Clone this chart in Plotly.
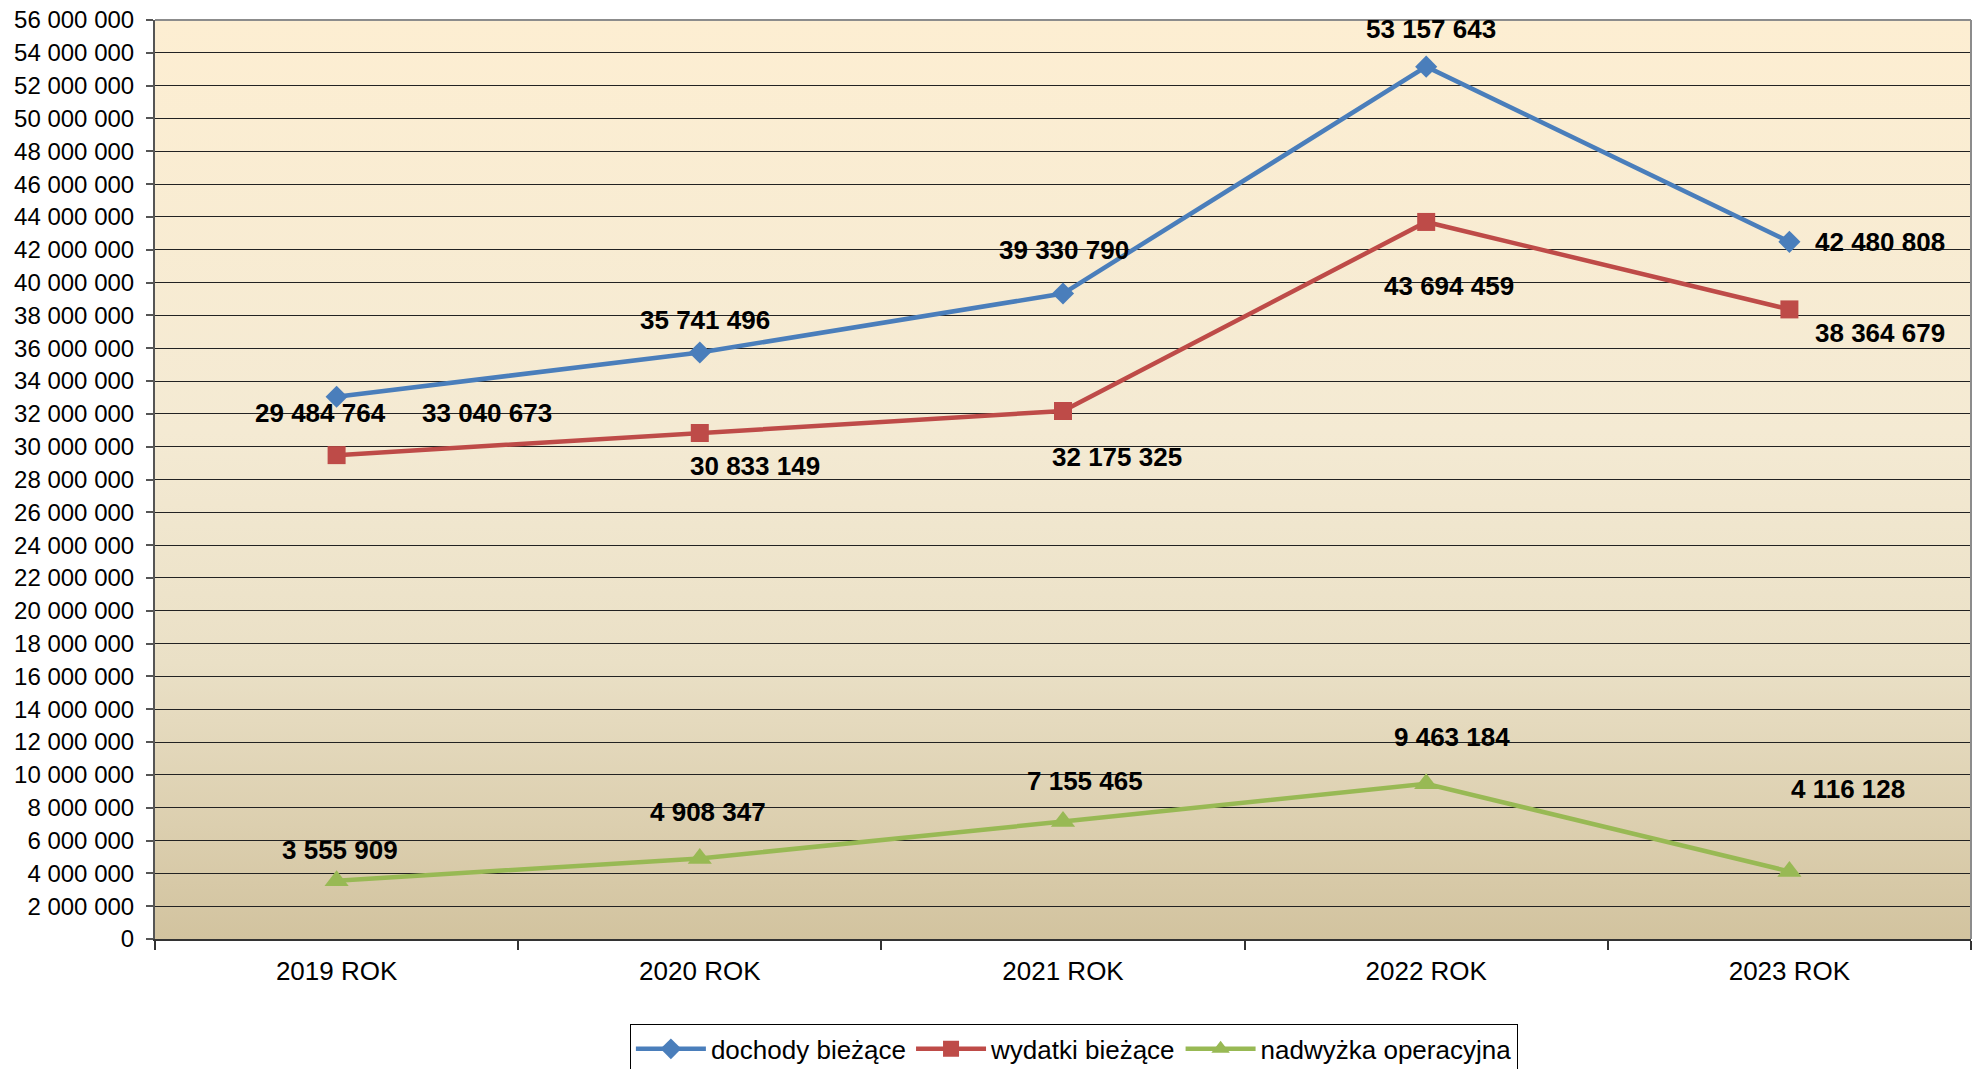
import base64
import plotly.graph_objects as go

# Budget series, PLN
years = ["2019 ROK", "2020 ROK", "2021 ROK", "2022 ROK", "2023 ROK"]
dochody = [33040673, 35741496, 39330790, 53157643, 42480808]
wydatki = [29484764, 30833149, 32175325, 43694459, 38364679]
nadwyzka = [3555909, 4908347, 7155465, 9463184, 4116128]

series_names = ["dochody bieżące", "wydatki bieżące", "nadwyżka operacyjna"]

# Pixel offsets of the value labels relative to their markers (dx right, dy down)
offsets_dochody = [(150, 16), (5, -32), (1, -44), (5, -38), (91, 0)]
offsets_wydatki = [(-16, -42), (55, 33), (54, 46), (23, 64), (91, 24)]
offsets_nadwyzka = [(3, -31), (8, -46), (22, -41), (26, -47), (59, -82)]

BLUE = "#4A7EBB"
RED = "#BE4B48"
GREEN = "#98B954"
FONT = "Liberation Sans, Arial, sans-serif"


def fmt(v):
    return f"{v:,}".replace(",", " ")


fig = go.Figure()

styles = [
    (dochody, BLUE, "diamond", 17),
    (wydatki, RED, "square", 18),
    (nadwyzka, GREEN, "triangle-up", 21),
]
for name, (vals, color, symbol, size) in zip(series_names, styles):
    fig.add_trace(go.Scatter(
        x=years, y=vals, name=name, mode="lines+markers",
        line=dict(color=color, width=4.5),
        marker=dict(symbol=symbol, size=size, color=color, line=dict(width=0)),
        cliponaxis=False,
    ))

annotations = []
for vals, offs in [(dochody, offsets_dochody), (wydatki, offsets_wydatki),
                   (nadwyzka, offsets_nadwyzka)]:
    for cat, v, (dx, dy) in zip(years, vals, offs):
        annotations.append(dict(
            x=cat, y=v, xref="x", yref="y", text=fmt(v), showarrow=False,
            xshift=dx, yshift=-dy,
            font=dict(family=FONT, size=26, color="black", weight="bold"),
        ))

# Parchment-style vertical gradient for the plotting area
svg = (
    '<svg xmlns="http://www.w3.org/2000/svg" width="100" height="1000" preserveAspectRatio="none">'
    '<defs><linearGradient id="g" x1="0" y1="0" x2="0" y2="1">'
    '<stop offset="0" stop-color="#FDEED2"/>'
    '<stop offset="0.45" stop-color="#F4EAD3"/>'
    '<stop offset="0.7" stop-color="#EAE0C6"/>'
    '<stop offset="1" stop-color="#D2C39F"/>'
    '</linearGradient></defs>'
    '<rect x="0" y="0" width="100" height="1000" fill="url(#g)"/></svg>'
)
bg_src = "data:image/svg+xml;base64," + base64.b64encode(svg.encode()).decode()

fig.update_layout(
    width=1975, height=1069,
    margin=dict(l=155, r=4, t=20, b=130, autoexpand=False),
    paper_bgcolor="white",
    plot_bgcolor="rgba(0,0,0,0)",
    separators=", ",
    font=dict(family=FONT, color="black"),
    images=[dict(
        source=bg_src, xref="paper", yref="paper", x=0, y=1,
        sizex=1, sizey=1, sizing="stretch", layer="below",
        xanchor="left", yanchor="top",
    )],
    shapes=[
        dict(type="line", xref="paper", yref="paper", x0=0, x1=1, y0=1, y1=1,
             line=dict(color="#8C8C8C", width=2), layer="above"),
        dict(type="line", xref="paper", yref="paper", x0=1, x1=1, y0=0, y1=1,
             line=dict(color="#8C8C8C", width=2), layer="above"),
    ],
    annotations=annotations,
    showlegend=True,
    legend=dict(
        orientation="h", x=0.506, xanchor="center", y=-0.093, yanchor="top",
        bordercolor="black", borderwidth=1, bgcolor="white",
        font=dict(family=FONT, size=26, color="black"),
        itemwidth=70, tracegroupgap=0,
    ),
    hovermode=False,
)

fig.update_xaxes(
    type="category", range=[-0.5, 4.5],
    showgrid=False, showline=True, linecolor="#333333", linewidth=2,
    ticks="outside", tickson="boundaries", ticklen=9, tickcolor="#333333",
    tickwidth=1.5, tickfont=dict(family=FONT, size=26, color="black"),
    ticklabelstandoff=8,
)
fig.update_yaxes(
    range=[0, 56000000], dtick=2000000, tick0=0, tickformat=",d",
    showgrid=True, gridcolor="#222222", gridwidth=1.4,
    showline=True, linecolor="#555555", linewidth=2,
    ticks="outside", ticklen=7, tickcolor="#555555", tickwidth=1.5,
    tickfont=dict(family=FONT, size=24, color="black"),
    ticklabelstandoff=7, zeroline=False,
)

fig.write_html("out.html")
